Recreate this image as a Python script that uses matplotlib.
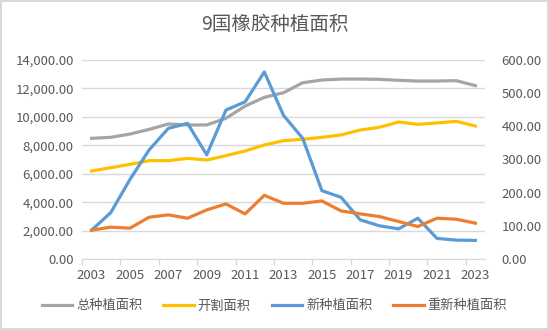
import numpy as np
import matplotlib.pyplot as plt
from matplotlib.ticker import FuncFormatter

plt.rcParams['font.family'] = ['Noto Sans CJK SC', 'DejaVu Sans']

years = list(range(2003, 2024))
# 左轴
total_area = [8490, 8560, 8790, 9120, 9500, 9430, 9430, 9900, 10760, 11370, 11700,
              12400, 12590, 12660, 12660, 12640, 12570, 12520, 12520, 12545, 12195]
tapped_area = [6190, 6425, 6660, 6920, 6920, 7080, 6965, 7270, 7600, 8020, 8325,
               8420, 8560, 8725, 9075, 9265, 9640, 9475, 9570, 9685, 9357]
# 右轴
new_area = [87, 140, 240, 329, 394, 409, 314, 449, 474, 564, 433,
            364, 206, 186, 118, 100, 91, 123, 62, 57, 56]
replant_area = [87, 96, 93, 126, 133, 123, 148, 166, 136, 192, 168,
                168, 175, 145, 136, 128, 113, 98, 123, 120, 108]

title = "9国橡胶种植面积"
names = ["总种植面积", "开割面积", "新种植面积", "重新种植面积"]
colors = ["#A5A5A5", "#FFC000", "#5B9BD5", "#ED7D31"]

text_c = "#595959"
grid_c = "#D9D9D9"

fig = plt.figure(figsize=(5.49, 3.30), dpi=100)
fig.patch.set_edgecolor(grid_c)
fig.patch.set_linewidth(1.5)
ax = fig.add_axes([82 / 549, 71 / 330, 403 / 549, 199 / 330])
ax2 = ax.twinx()

x = np.arange(len(years))
lines = []
lines += ax.plot(x, total_area, color=colors[0], lw=2.3, label=names[0])
lines += ax.plot(x, tapped_area, color=colors[1], lw=2.3, label=names[1])
lines += ax2.plot(x, new_area, color=colors[2], lw=2.3, label=names[2])
lines += ax2.plot(x, replant_area, color=colors[3], lw=2.3, label=names[3])
ax2.set_zorder(ax.get_zorder() + 1)

ax.set_xlim(-0.5, len(years) - 0.5)
ax.set_ylim(0, 14000)
ax2.set_ylim(0, 600)
ax.set_yticks(np.arange(0, 14001, 2000))
ax2.set_yticks(np.arange(0, 601, 100))
fmt = FuncFormatter(lambda v, p: f"{v:,.2f}")
ax.yaxis.set_major_formatter(fmt)
ax2.yaxis.set_major_formatter(fmt)

ax.set_xticks(x[::2])
ax.set_xticklabels([str(y) for y in years[::2]])
ax.set_xticks(np.arange(-0.5, len(years) - 1, 2), minor=True)
ax.tick_params(axis='x', which='major', length=0, pad=7, labelsize=9.5, labelcolor=text_c)
ax.tick_params(axis='x', which='minor', length=4, color=grid_c, width=1)
ax.tick_params(axis='y', length=0, pad=6, labelsize=9.5, labelcolor=text_c)
ax2.tick_params(axis='y', length=0, pad=12, labelsize=9.5, labelcolor=text_c)

ax.grid(axis='y', color=grid_c, lw=1)
ax.set_axisbelow(True)
for a in (ax, ax2):
    for s in ("top", "left", "right"):
        a.spines[s].set_visible(False)
    a.spines["bottom"].set_color(grid_c)
ax2.spines["bottom"].set_visible(False)

fig.text(0.5, 1 - 25 / 330, title, ha='center', va='center', fontsize=14, color=text_c)
fig.legend(lines, names, loc='center', bbox_to_anchor=(0.5, 1 - 306 / 330), ncol=4,
           frameon=False, fontsize=9.5, labelcolor=text_c, handlelength=2.3,
           handletextpad=0.3, columnspacing=1.6)

fig.savefig("out.png", dpi=100)
